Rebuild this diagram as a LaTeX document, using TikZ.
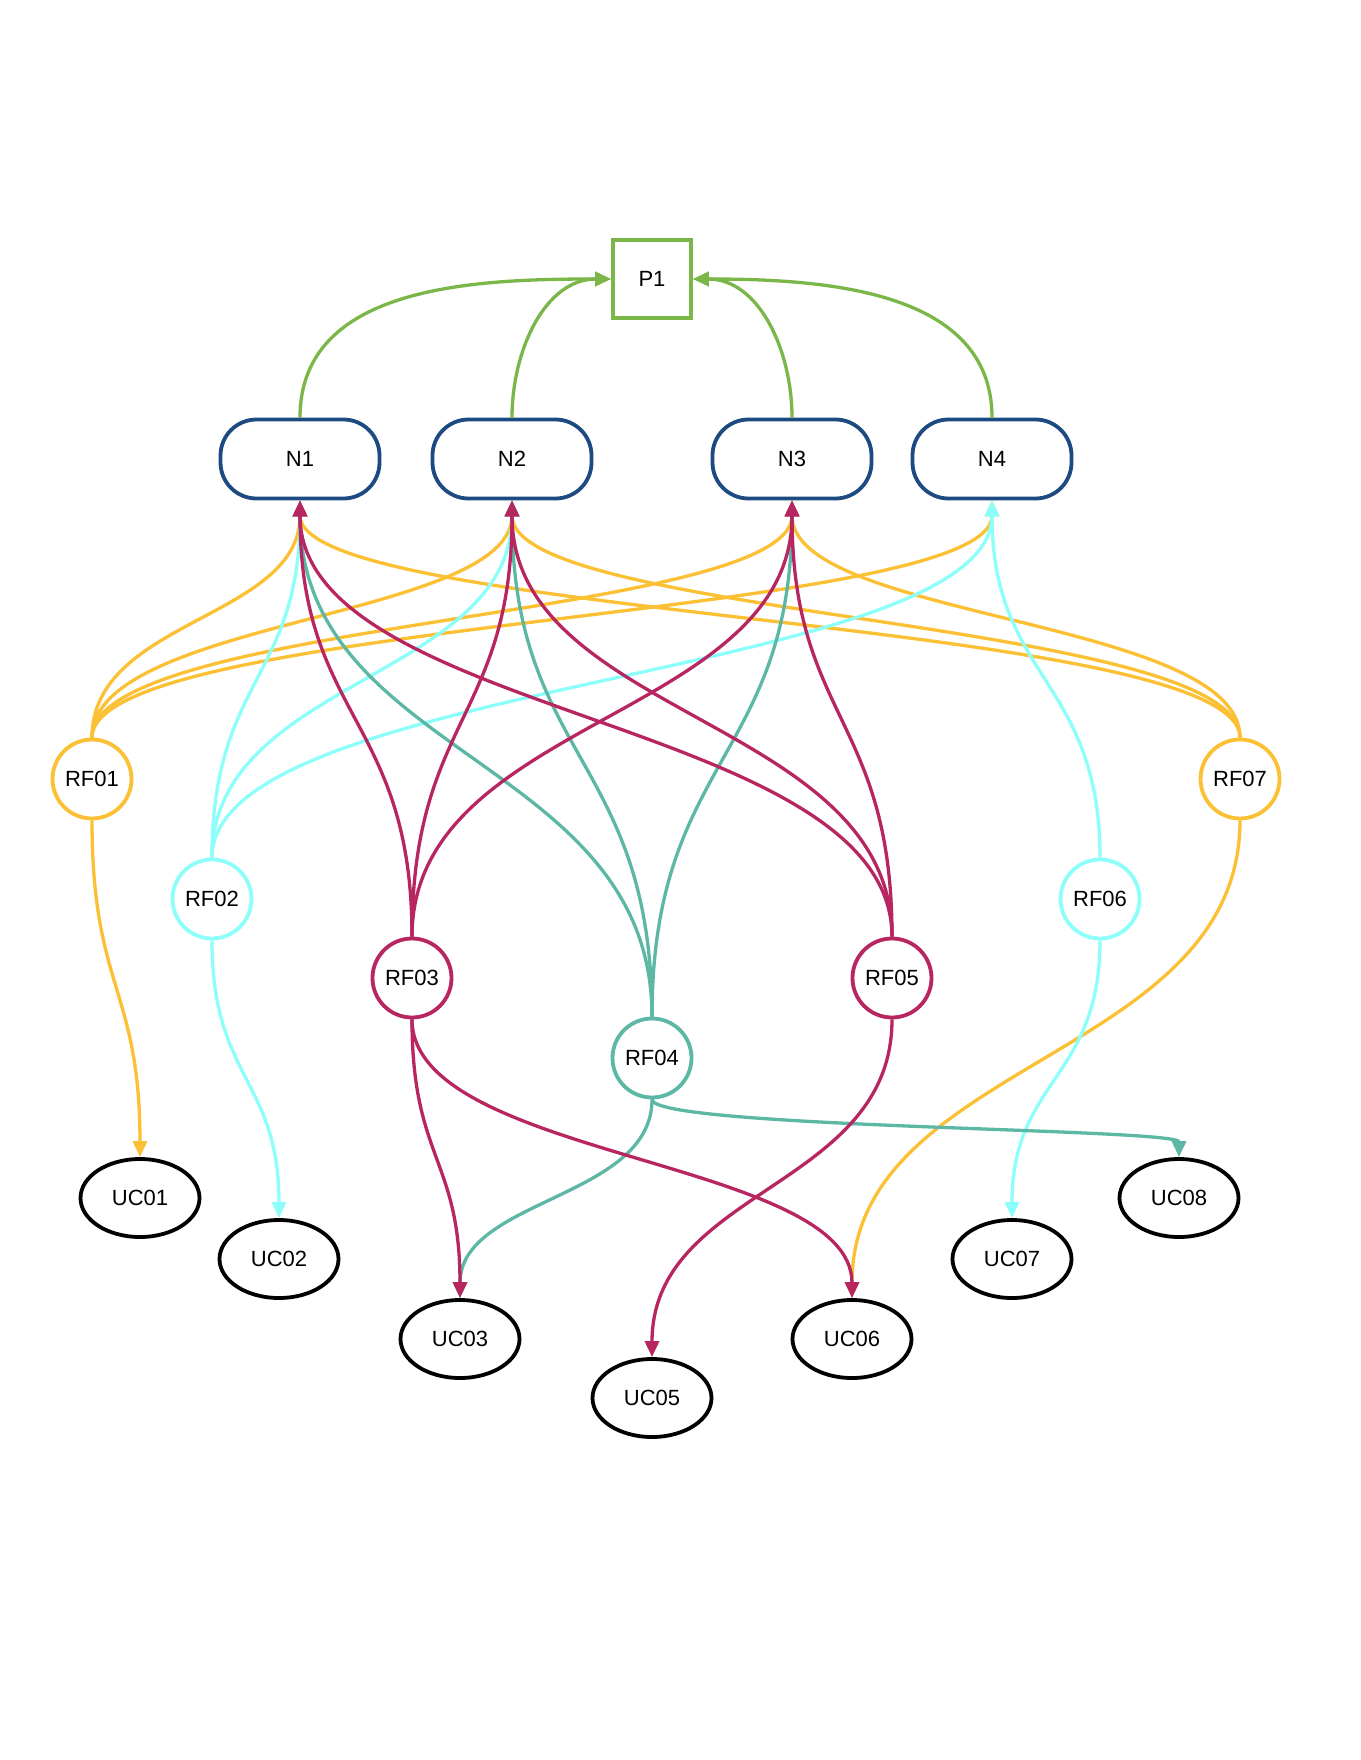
\documentclass[tikz,border=0pt]{standalone}
\usepackage{fontspec}
\setmainfont{Liberation Sans}
\usetikzlibrary{arrows.meta,calc,shapes.geometric}
\definecolor{cgreen}{RGB}{122,182,72}
\definecolor{cnavy}{RGB}{30,74,130}
\definecolor{cyel}{RGB}{251,192,51}
\definecolor{ccyan}{RGB}{140,255,250}
\definecolor{ccrim}{RGB}{184,38,98}
\definecolor{cteal}{RGB}{92,184,165}
\newcommand{\vlink}[3]{\draw[edge,#1] (#2) .. controls ($(#2)!0.5!(#2|-#3)$) and ($(#3)!0.5!(#3|-#2)$) .. (#3);}
\begin{document}
\begin{tikzpicture}[x=1pt,y=-1pt,
  lbl/.style={font=\fontsize{22}{26}\selectfont, text=black},
  pbox/.style={lbl, draw=cgreen, line width=3.8pt, fill=white, minimum width=78pt, minimum height=78pt, inner sep=0pt},
  nbox/.style={lbl, draw=cnavy, line width=3.8pt, fill=white, rounded corners=36pt, minimum width=159pt, minimum height=79pt, inner sep=0pt},
  rfc/.style={lbl, circle, line width=3.8pt, fill=white, minimum size=79pt, inner sep=0pt},
  uce/.style={lbl, ellipse, draw=black, line width=3.8pt, fill=white, minimum width=119pt, minimum height=78pt, inner sep=0pt},
  edge/.style={line width=3.3pt, -{Triangle[length=16pt,width=14pt]}},
]
\useasboundingbox (0,0) rectangle (1360,1760);
\fill[white] (0,0) rectangle (1360,1760);

% nodes
\node[pbox] (p1) at (652,279) {P1};
\node[nbox] (n1) at (300,459) {N1};
\node[nbox] (n2) at (512,459) {N2};
\node[nbox] (n3) at (792,459) {N3};
\node[nbox] (n4) at (992,459) {N4};

\node[rfc, draw=cyel]  (rf01) at (92,779)   {RF01};
\node[rfc, draw=ccyan] (rf02) at (212,899)  {RF02};
\node[rfc, draw=ccrim] (rf03) at (412,978)  {RF03};
\node[rfc, draw=cteal] (rf04) at (652,1058) {RF04};
\node[rfc, draw=ccrim] (rf05) at (892,978)  {RF05};
\node[rfc, draw=ccyan] (rf06) at (1100,899) {RF06};
\node[rfc, draw=cyel]  (rf07) at (1240,779) {RF07};

\node[uce] (uc01) at (140,1198)  {UC01};
\node[uce] (uc02) at (279,1259)  {UC02};
\node[uce] (uc03) at (460,1339)  {UC03};
\node[uce] (uc05) at (652,1398)  {UC05};
\node[uce] (uc06) at (852,1339)  {UC06};
\node[uce] (uc07) at (1012,1259) {UC07};
\node[uce] (uc08) at (1179,1198) {UC08};

% green edges to P1
\draw[edge,cgreen] (n1.north) to[out=90,in=180] (p1.west);
\draw[edge,cgreen] (n2.north) to[out=90,in=180] (p1.west);
\draw[edge,cgreen] (n3.north) to[out=90,in=0] (p1.east);
\draw[edge,cgreen] (n4.north) to[out=90,in=0] (p1.east);

% yellow
\vlink{cyel}{rf01.north}{n1.south}
\vlink{cyel}{rf01.north}{n2.south}
\vlink{cyel}{rf01.north}{n3.south}
\vlink{cyel}{rf01.north}{n4.south}
\vlink{cyel}{rf07.north}{n1.south}
\vlink{cyel}{rf07.north}{n2.south}
\vlink{cyel}{rf07.north}{n3.south}
\vlink{cyel}{rf01.south}{uc01.north}
\vlink{cyel}{rf07.south}{uc06.north}

% cyan
\vlink{ccyan}{rf02.north}{n1.south}
\vlink{ccyan}{rf02.north}{n2.south}
\vlink{ccyan}{rf02.north}{n4.south}
\vlink{ccyan}{rf06.north}{n4.south}
\vlink{ccyan}{rf02.south}{uc02.north}
\vlink{ccyan}{rf06.south}{uc07.north}

% teal
\vlink{cteal}{rf04.north}{n1.south}
\vlink{cteal}{rf04.north}{n2.south}
\vlink{cteal}{rf04.north}{n3.south}
\vlink{cteal}{rf04.south}{uc03.north}
\vlink{cteal}{rf04.south}{uc08.north}

% crimson
\vlink{ccrim}{rf03.north}{n1.south}
\vlink{ccrim}{rf03.north}{n2.south}
\vlink{ccrim}{rf03.north}{n3.south}
\vlink{ccrim}{rf05.north}{n1.south}
\vlink{ccrim}{rf05.north}{n2.south}
\vlink{ccrim}{rf05.north}{n3.south}
\vlink{ccrim}{rf03.south}{uc03.north}
\vlink{ccrim}{rf03.south}{uc06.north}
\vlink{ccrim}{rf05.south}{uc05.north}
\end{tikzpicture}
\end{document}
